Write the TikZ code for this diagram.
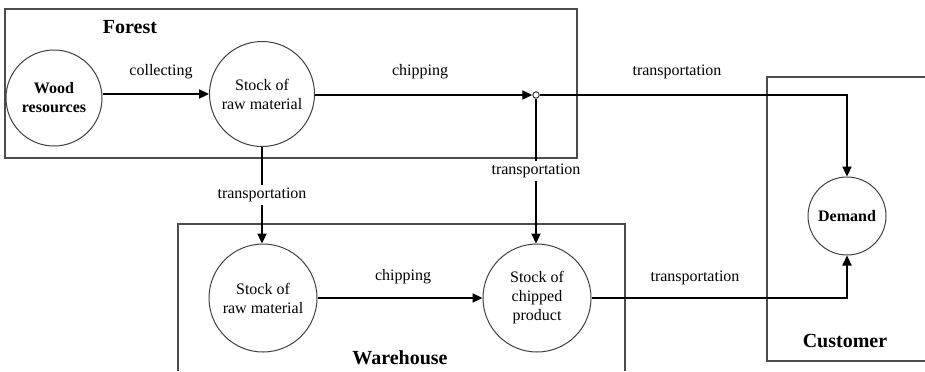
\documentclass[tikz,border=0pt]{standalone}
\usepackage{fontspec}
\setmainfont{Liberation Serif}
\usetikzlibrary{arrows.meta}
\begin{document}
\begin{tikzpicture}[x=0.5pt,y=-0.5pt,
  region/.style={draw=black!70,line width=0.55pt},
  stock/.style={circle,draw=black!75,line width=0.5pt,minimum size=54pt,inner sep=0pt,align=center,font=\fontsize{8}{9.5}\selectfont},
  flow/.style={draw=black,line width=0.7pt,-{Triangle[length=5pt,width=4.6pt]}},
  lbl/.style={font=\fontsize{8}{9.5}\selectfont,inner sep=1pt},
  gaplbl/.style={lbl,fill=white,inner sep=1.5pt},
  title/.style={font=\fontsize{10}{12}\selectfont\bfseries,inner sep=0pt}]
\useasboundingbox (0,0) rectangle (925,371);
% regions
\draw[region] (5,9) rectangle (577,158);
\draw[region] (178,371) -- (178,224) -- (625,224) -- (625,371);
\draw[region] (925,77) -- (767,77) -- (767,361) -- (925,361);
\node[title] (tforest) at (130,27) {Forest};
\node[title] (tware) at (400,358) {Warehouse};
\node[title] (tcust) at (845,341) {Customer};
% nodes
\node[stock,minimum size=48pt,font=\fontsize{8}{9.5}\selectfont\bfseries] (wood) at (54,98) {Wood\\resources};
\node[stock,minimum size=52.5pt] (rawF) at (262,94) {Stock of\\raw material};
\node[circle,draw=black!80,line width=0.5pt,fill=white,minimum size=3.2pt,inner sep=0pt] (j) at (536,95) {};
\node[stock] (rawW) at (263,298) {Stock of\\raw material};
\node[stock] (chip) at (537,298) {Stock of\\chipped\\product};
\node[stock,minimum size=39pt,font=\fontsize{8}{9.5}\selectfont\bfseries] (dem) at (847,216) {Demand};
% flows
\draw[flow] (wood.east |- 0,94) -- (rawF.west |- 0,94);
\node[lbl] (lcol) at (161,72) {collecting};
\draw[flow] (rawF.east |- j) -- (j);
\node[lbl] (lchF) at (420,72) {chipping};
\draw[flow] (j) -| (dem);
\node[lbl] (ltr1) at (677,72) {transportation};
\draw[flow] (j) -- node[gaplbl] {transportation} (j |- chip.north);
\draw[flow] (rawF) -- node[gaplbl] {transportation} (rawF |- rawW.north);
\draw[flow] (rawW) -- (chip);
\node[lbl] (lchW) at (403,277) {chipping};
\draw[flow] (chip) -| (dem);
\node[lbl] (ltr2) at (695,278) {transportation};
\end{tikzpicture}
\end{document}
